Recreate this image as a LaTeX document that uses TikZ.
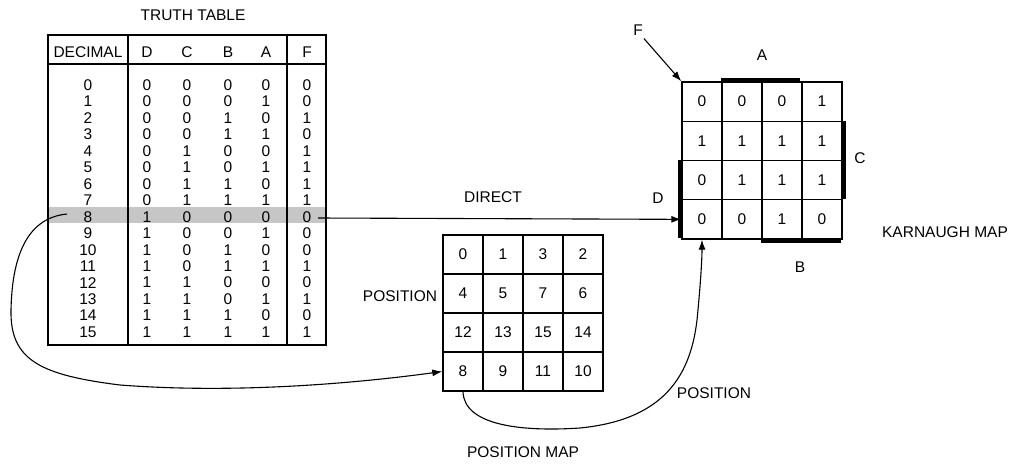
\documentclass[tikz,border=0pt]{standalone}
\usepackage{fontspec}
\setmainfont{Liberation Sans}
\usetikzlibrary{arrows.meta}
\begin{document}
\begin{tikzpicture}[x=1pt,y=-1pt,
  lbl/.style={font=\fontsize{15.5}{17}\selectfont, inner sep=0pt},
  cell/.style={draw, line width=1.4pt, minimum width=40pt, minimum height=39pt,
               inner sep=0pt, font=\fontsize{15.5}{17}\selectfont},
  wire/.style={line width=1.1pt},
  tip/.style={-{Latex[length=10pt,width=7pt]}},
  rule/.style={line width=1.8pt},
  bar/.style={line width=4pt}]
\useasboundingbox (0,0) rectangle (1012,464);

% ---------- truth table ----------
\node[lbl] (tt-title) at (193,15) {TRUTH TABLE};
\fill[gray!45] (49,207) rectangle (325,223);
\draw[rule] (48,35) rectangle (326,345);
\draw[rule] (48,64) -- (326,64);
\draw[rule] (128,35) -- (128,345);
\draw[rule] (287,35) -- (287,345);
\node[lbl] (h-dec) at (88,52) {DECIMAL};
\node[lbl] (h-d) at (147,52) {D};
\node[lbl] (h-c) at (187,52) {C};
\node[lbl] (h-b) at (228,52) {B};
\node[lbl] (h-a) at (266,52) {A};
\node[lbl] (h-f) at (307,52) {F};
\foreach \i/\d/\c/\b/\a/\f in {0/0/0/0/0/0, 1/0/0/0/1/0, 2/0/0/1/0/1, 3/0/0/1/1/0,
    4/0/1/0/0/1, 5/0/1/0/1/1, 6/0/1/1/0/1, 7/0/1/1/1/1,
    8/1/0/0/0/0, 9/1/0/0/1/0, 10/1/0/1/0/0, 11/1/0/1/1/1,
    12/1/1/0/0/0, 13/1/1/0/1/1, 14/1/1/1/0/0, 15/1/1/1/1/1}{
  \pgfmathsetmacro\yy{85+16.47*\i}
  \node[lbl] (tt-dec-\i) at (88,\yy) {\i};
  \node[lbl] (tt-d-\i) at (147,\yy) {\d};
  \node[lbl] (tt-c-\i) at (187,\yy) {\c};
  \node[lbl] (tt-b-\i) at (228,\yy) {\b};
  \node[lbl] (tt-a-\i) at (266,\yy) {\a};
  \node[lbl] (tt-f-\i) at (307,\yy) {\f};
}
\coordinate (tt-left8) at (67,214);
\coordinate (tt-right8) at (318,218);

% ---------- position map ----------
\foreach \r/\va/\vb/\vc/\vd in {0/0/1/3/2, 1/4/5/7/6, 2/12/13/15/14, 3/8/9/11/10}{
  \foreach \col/\v in {0/\va, 1/\vb, 2/\vc, 3/\vd}{
    \node[cell] (p\r\col) at (463+40*\col, 254.5+39*\r) {\v};
  }
}
\node[lbl] (pos-label) at (400,296) {POSITION};
\node[lbl] (posmap-label) at (523,452) {POSITION MAP};

% ---------- Karnaugh map ----------
\foreach \r/\va/\vb/\vc/\vd in {0/0/0/0/1, 1/1/1/1/1, 2/0/1/1/1, 3/0/0/1/0}{
  \foreach \col/\v in {0/\va, 1/\vb, 2/\vc, 3/\vd}{
    \node[cell, minimum height=39.25pt] (k\r\col) at (702+40*\col, 101.6+39.25*\r) {\v};
  }
}
\draw[bar] (k01.north west) ++(0,-1.5) -- ++(79,0);
\draw[bar] (k13.north east) ++(1.5,0) -- ++(0,78.5);
\draw[bar] (k20.north west) ++(-1.5,0) -- ++(0,78.5);
\draw[bar] (k32.south west) ++(0,1.5) -- ++(80,0);
\node[lbl] (lab-a) at (762,55) {A};
\node[lbl] (lab-c) at (860,158) {C};
\node[lbl] (lab-d) at (658,198) {D};
\node[lbl] (lab-b) at (800,267) {B};
\node[lbl] (lab-f) at (638,30) {F};
\node[lbl] (km-label) at (945,232) {KARNAUGH MAP};

% ---------- connectors ----------
\draw[wire,tip] (lab-f.south east) ++(1,3) -- (k00.north west);
\node[lbl] (direct-label) at (493,197) {DIRECT};
\draw[wire,tip] (tt-right8) -- (k30.west);
\draw[wire,tip] (tt-left8) .. controls (25,218) and (12,260) .. (11,310)
  .. controls (10,360) and (40,375) .. (120,385)
  .. controls (250,395) and (380,380) .. (p30.west);
\draw[wire,tip] (p30.south) .. controls (464,425) and (520,432) .. (580,428)
  .. controls (660,420) and (690,380) .. (697,320)
  .. controls (700,290) and (702,262) .. (k30.south);
\node[lbl] (pos2-label) at (714,393) {POSITION};
\end{tikzpicture}
\end{document}
